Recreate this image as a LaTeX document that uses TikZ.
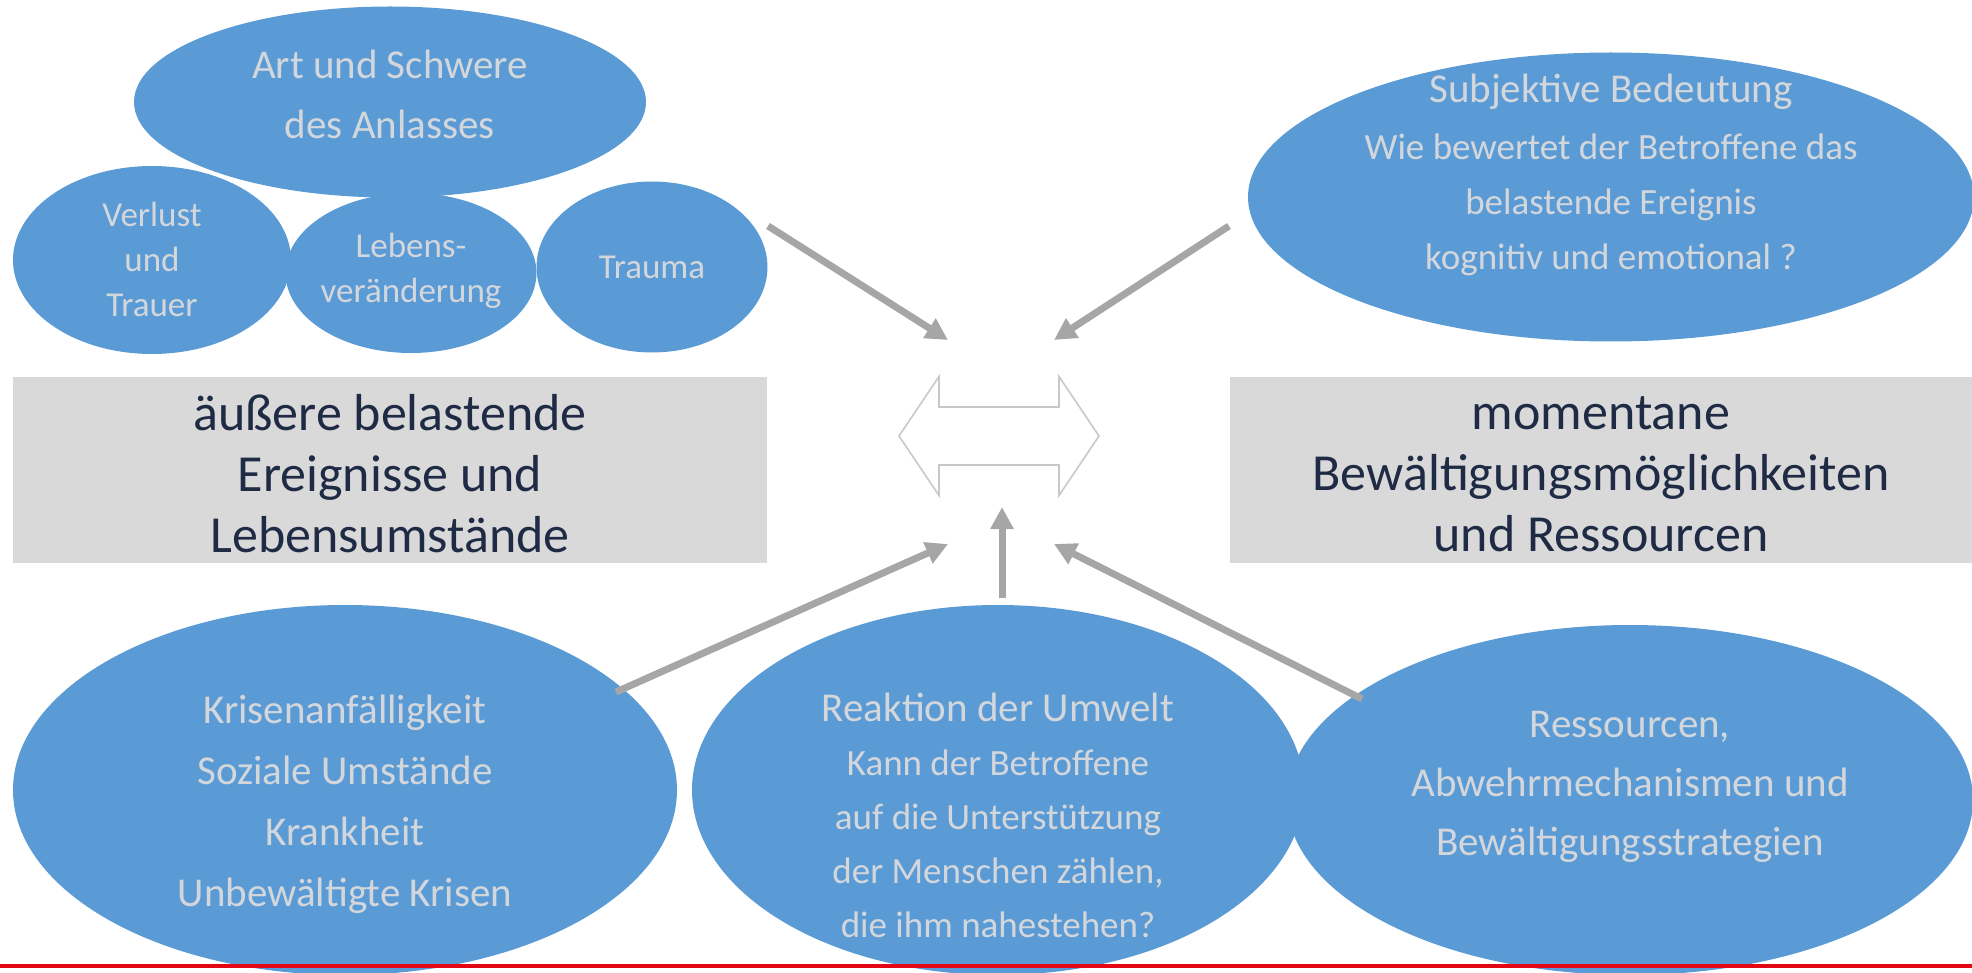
\documentclass[tikz,border=0pt]{standalone}
\usepackage{fontspec}
\setmainfont{Carlito}
\usetikzlibrary{shapes.geometric,arrows.meta}
\definecolor{blobblue}{HTML}{5B9BD5}
\definecolor{boxgray}{HTML}{D9D9D9}
\definecolor{arrowgray}{HTML}{A6A6A6}
\definecolor{rimgray}{HTML}{C8C8C8}
\definecolor{paletxt}{HTML}{D3D7DC}
\definecolor{navytxt}{HTML}{1F2A44}
\definecolor{footred}{HTML}{E30613}
\newcommand{\subsize}{\fontsize{18.5pt}{27pt}\selectfont}
\begin{document}
\begin{tikzpicture}[x=0.5pt,y=-0.5pt,
    blob/.style 2 args={ellipse,fill=blobblue,inner sep=0pt,minimum width=#1,minimum height=#2},
    graybox/.style={rectangle,fill=boxgray,inner sep=0pt,minimum width=#1,minimum height=93pt},
    head/.style={text=paletxt,align=center,font=\fontsize{20.5pt}{30pt}\selectfont},
    small/.style={text=paletxt,align=center,font=\fontsize{17.5pt}{22.5pt}\selectfont},
    big/.style={text=navytxt,align=center,font=\fontsize{26pt}{30.5pt}\selectfont},
    push/.style={draw=arrowgray,line width=3.5pt,-{Triangle[length=11pt,width=11pt]}},
    hollow/.style={draw=rimgray,line width=0.8pt,line join=miter}]
  \useasboundingbox (0,0) rectangle (1972,973);
  % upper left group
  \node[blob={139pt}{94pt}] (verlust) at (152,260) {};
  \node[blob={125.5pt}{80pt}] (lebens) at (411,273) {};
  \node[blob={115.5pt}{85.5pt}] (trauma) at (652,267) {};
  \node[blob={256pt}{95.5pt}] (anlass) at (390,102) {};
  \node[head] (anlass-txt) at ([yshift=4pt]anlass.center) {Art und Schwere\\des Anlasses};
  \node[small] (verlust-txt) at ([yshift=0.5pt]verlust.center) {Verlust\\und\\Trauer};
  \node[small] (lebens-txt) at ([yshift=1pt]lebens.center) {Lebens-\\veränderung};
  \node[small] (trauma-txt) at (trauma.center) {Trauma};
  % upper right
  \node[blob={363pt}{144.5pt}] (subjektiv) at (1611,197) {};
  \node[head,font=\fontsize{20.5pt}{27.5pt}\selectfont] (subjektiv-txt) at ([yshift=11pt]subjektiv.center)
    {Subjektive Bedeutung\\[1pt]\subsize Wie bewertet der Betroffene das\\\subsize belastende Ereignis\\\subsize kognitiv und emotional ?};
  % gray boxes
  \node[graybox=377pt] (aussen) at (390,470) {};
  \node[big] (aussen-txt) at ([yshift=-2pt]aussen.center) {äußere belastende\\Ereignisse und\\Lebensumstände};
  \node[graybox=371pt] (moeglich) at (1601,470) {};
  \node[big] (moeglich-txt) at ([yshift=-2pt]moeglich.center) {momentane\\Bewältigungsmöglichkeiten\\und Ressourcen};
  % lower row
  \node[blob={332pt}{185pt}] (anfall) at (345,790) {};
  \node[blob={306pt}{185pt}] (umwelt) at (998,790) {};
  \node[blob={343pt}{175pt}] (ressourcen) at (1630,800) {};
  \node[head,font=\fontsize{20.5pt}{30.5pt}\selectfont] (anfall-txt) at ([yshift=-7pt]anfall.center)
    {Krisenanfälligkeit\\Soziale Umstände\\Krankheit\\Unbewältigte Krisen};
  \node[head,font=\fontsize{20.5pt}{27pt}\selectfont] (umwelt-txt) at ([yshift=-12.5pt]umwelt.center)
    {Reaktion der Umwelt\\\subsize Kann der Betroffene\\\subsize auf die Unterstützung\\\subsize der Menschen zählen,\\\subsize die ihm nahestehen?};
  \node[head,font=\fontsize{20.5pt}{29.5pt}\selectfont] (ressourcen-txt) at ([yshift=6.5pt]ressourcen.center)
    {Ressourcen,\\Abwehrmechanismen und\\Bewältigungsstrategien};
  % hub with double arrow
  \coordinate (hub) at (999,436);
  \draw[hollow] ([shift={(-100,0)}]hub) -- ++(40,-59.5) -- ++(0,30.5) -- ++(120,0)
    -- ++(0,-30.5) -- ++(40,59.5) -- ++(-40,59.5) -- ++(0,-30.5) -- ++(-120,0)
    -- ++(0,30.5) -- cycle;
  \coordinate (from-nw) at (768,226);  \coordinate (to-nw) at (948,340);
  \coordinate (from-ne) at (1229,226); \coordinate (to-ne) at (1054,340);
  \coordinate (from-sw) at (616,692);  \coordinate (to-sw) at (948,544);
  \coordinate (from-s) at (1002,598);  \coordinate (to-s) at (1002,507);
  \coordinate (from-se) at (1362,699); \coordinate (to-se) at (1054,544);
  \foreach \d in {nw,ne,sw,s,se}
    \draw[push] (from-\d) -- (to-\d);
  % footer line
  \coordinate (foot-l) at (0,966); \coordinate (foot-r) at (1972,966);
  \draw[footred,line width=2pt] (foot-l) -- (foot-r);
\end{tikzpicture}
\end{document}
